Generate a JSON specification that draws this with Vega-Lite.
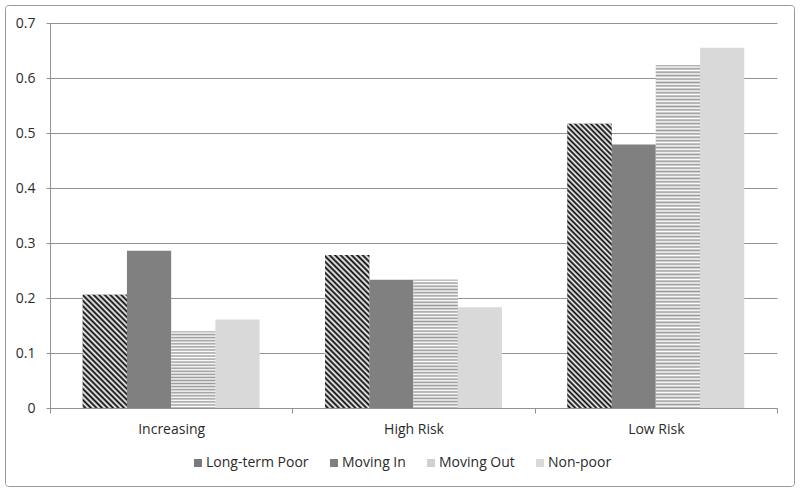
{
"$schema": "https://vega.github.io/schema/vega-lite/v6.json",
"width": 789, "height": 481,
"autosize": {"type": "none"},
"padding": {"left": 5, "top": 5, "right": 6, "bottom": 6},
"background": "white",
"config": {
  "font": "Open Sans",
  "view": {"stroke": "#9a9a9a", "strokeWidth": 1, "cornerRadius": 3},
  "axis": {"labelFont": "Open Sans", "labelFontSize": 14, "labelColor": "#2b2b2b", "domainColor": "#929292", "tickColor": "#929292", "gridColor": "#929292", "domainWidth": 1, "tickWidth": 1, "gridWidth": 1},
  "legend": {"labelFont": "Open Sans", "labelFontSize": 14, "labelColor": "#2b2b2b"}
},
"data": {"values": [
  {"cat": "Increasing", "series": "Long-term Poor", "value": 0.206},
  {"cat": "Increasing", "series": "Moving In", "value": 0.286},
  {"cat": "Increasing", "series": "Moving Out", "value": 0.139},
  {"cat": "Increasing", "series": "Non-poor", "value": 0.161},
  {"cat": "High Risk", "series": "Long-term Poor", "value": 0.278},
  {"cat": "High Risk", "series": "Moving In", "value": 0.233},
  {"cat": "High Risk", "series": "Moving Out", "value": 0.233},
  {"cat": "High Risk", "series": "Non-poor", "value": 0.183},
  {"cat": "Low Risk", "series": "Long-term Poor", "value": 0.517},
  {"cat": "Low Risk", "series": "Moving In", "value": 0.479},
  {"cat": "Low Risk", "series": "Moving Out", "value": 0.623},
  {"cat": "Low Risk", "series": "Non-poor", "value": 0.655}
]},
"encoding": {
  "x": {"field": "cat", "type": "nominal",
        "scale": {"domain": ["Increasing", "High Risk", "Low Risk"], "range": [45, 772], "paddingInner": 0, "paddingOuter": 0},
        "axis": {"orient": "bottom", "offset": -78, "labelAngle": 0, "tickBand": "extent", "ticks": true, "tickSize": 5, "labelPadding": 9, "title": null, "grid": false, "domain": true}},
  "xOffset": {"field": "series", "type": "nominal",
        "scale": {"domain": ["Long-term Poor", "Moving In", "Moving Out", "Non-poor"], "paddingInner": 0, "paddingOuter": 0.74}},
  "y": {"field": "value", "type": "quantitative", "stack": null,
        "scale": {"domain": [0, 0.7], "range": [403, 18], "nice": false, "zero": true},
        "axis": {"orient": "left", "offset": -45, "values": [0, 0.1, 0.2, 0.3, 0.4, 0.5, 0.6, 0.7], "format": "~g", "grid": true, "ticks": true, "tickSize": 4, "labelPadding": 11, "title": null, "domain": true}}
},
"layer": [
  {"mark": {"type": "bar"},
   "encoding": {"color": {"field": "series", "type": "nominal",
      "scale": {"domain": ["Long-term Poor", "Moving In", "Moving Out", "Non-poor"],
                "range": ["#7a7a7a", "#808080", "#d0d0d0", "#d9d9d9"]},
      "legend": {"orient": "none", "legendX": 186, "legendY": 451, "direction": "horizontal", "columns": 4, "title": null, "symbolType": "square", "symbolSize": 64, "symbolStrokeWidth": 0, "labelOffset": 1, "columnPadding": 18, "padding": 0,
        "encode": {"symbols": {"update": {"fill": {"value": {"expr": "datum.value === 'Long-term Poor' ? {gradient: 'linear', x1: 0, y1: 1, x2: 1, y2: 0, stops: [{offset: 0, color: '#fff'}, {offset: 0.2, color: '#fff'}, {offset: 0.2, color: '#000'}, {offset: 0.4, color: '#000'}, {offset: 0.4, color: '#fff'}, {offset: 0.6, color: '#fff'}, {offset: 0.6, color: '#000'}, {offset: 0.8, color: '#000'}, {offset: 0.8, color: '#fff'}, {offset: 1, color: '#fff'}]} : datum.value === 'Moving Out' ? {gradient: 'linear', x1: 0, y1: 0, x2: 0, y2: 1, stops: [{offset: 0, color: '#888'}, {offset: 0.14, color: '#888'}, {offset: 0.14, color: '#fff'}, {offset: 0.28, color: '#fff'}, {offset: 0.28, color: '#888'}, {offset: 0.43, color: '#888'}, {offset: 0.43, color: '#fff'}, {offset: 0.57, color: '#fff'}, {offset: 0.57, color: '#888'}, {offset: 0.72, color: '#888'}, {offset: 0.72, color: '#fff'}, {offset: 0.86, color: '#fff'}, {offset: 0.86, color: '#888'}, {offset: 1, color: '#888'}]} : scale('color', datum.value)"}}}}}}}}},
  {"transform": [{"filter": "datum.cat == 'Increasing' && datum.series == 'Long-term Poor'"}],
   "mark": {"type": "bar", "fill": {"gradient": "linear", "x1": 0, "y1": 1, "x2": 0.4709, "y2": -0.2065, "stops": [{"offset":0,"color":"#fff"},{"offset":0.0175,"color":"#000"},{"offset":0.035,"color":"#fff"},{"offset":0.0525,"color":"#000"},{"offset":0.07,"color":"#fff"},{"offset":0.0875,"color":"#000"},{"offset":0.105,"color":"#fff"},{"offset":0.1225,"color":"#000"},{"offset":0.14,"color":"#fff"},{"offset":0.1575,"color":"#000"},{"offset":0.175,"color":"#fff"},{"offset":0.1925,"color":"#000"},{"offset":0.21,"color":"#fff"},{"offset":0.2275,"color":"#000"},{"offset":0.245,"color":"#fff"},{"offset":0.2625,"color":"#000"},{"offset":0.28,"color":"#fff"},{"offset":0.2975,"color":"#000"},{"offset":0.315,"color":"#fff"},{"offset":0.3325,"color":"#000"},{"offset":0.35,"color":"#fff"},{"offset":0.3675,"color":"#000"},{"offset":0.385,"color":"#fff"},{"offset":0.4025,"color":"#000"},{"offset":0.42,"color":"#fff"},{"offset":0.4375,"color":"#000"},{"offset":0.455,"color":"#fff"},{"offset":0.4725,"color":"#000"},{"offset":0.49,"color":"#fff"},{"offset":0.5075,"color":"#000"},{"offset":0.525,"color":"#fff"},{"offset":0.5425,"color":"#000"},{"offset":0.56,"color":"#fff"},{"offset":0.5775,"color":"#000"},{"offset":0.595,"color":"#fff"},{"offset":0.6125,"color":"#000"},{"offset":0.63,"color":"#fff"},{"offset":0.6475,"color":"#000"},{"offset":0.665,"color":"#fff"},{"offset":0.6825,"color":"#000"},{"offset":0.7,"color":"#fff"},{"offset":0.7175,"color":"#000"},{"offset":0.735,"color":"#fff"},{"offset":0.7525,"color":"#000"},{"offset":0.77,"color":"#fff"},{"offset":0.7875,"color":"#000"},{"offset":0.805,"color":"#fff"},{"offset":0.8225,"color":"#000"},{"offset":0.84,"color":"#fff"},{"offset":0.8575,"color":"#000"},{"offset":0.875,"color":"#fff"},{"offset":0.8925,"color":"#000"},{"offset":0.91,"color":"#fff"},{"offset":0.9275,"color":"#000"},{"offset":0.945,"color":"#fff"},{"offset":0.9625,"color":"#000"},{"offset":0.98,"color":"#fff"},{"offset":0.9975,"color":"#000"}]}}},
  {"transform": [{"filter": "datum.cat == 'High Risk' && datum.series == 'Long-term Poor'"}],
   "mark": {"type": "bar", "fill": {"gradient": "linear", "x1": 0, "y1": 1, "x2": 0.3442, "y2": -0.19, "stops": [{"offset":0,"color":"#fff"},{"offset":0.014,"color":"#000"},{"offset":0.028,"color":"#fff"},{"offset":0.042,"color":"#000"},{"offset":0.056,"color":"#fff"},{"offset":0.07,"color":"#000"},{"offset":0.084,"color":"#fff"},{"offset":0.098,"color":"#000"},{"offset":0.112,"color":"#fff"},{"offset":0.126,"color":"#000"},{"offset":0.14,"color":"#fff"},{"offset":0.154,"color":"#000"},{"offset":0.168,"color":"#fff"},{"offset":0.182,"color":"#000"},{"offset":0.196,"color":"#fff"},{"offset":0.21,"color":"#000"},{"offset":0.224,"color":"#fff"},{"offset":0.238,"color":"#000"},{"offset":0.252,"color":"#fff"},{"offset":0.266,"color":"#000"},{"offset":0.28,"color":"#fff"},{"offset":0.294,"color":"#000"},{"offset":0.308,"color":"#fff"},{"offset":0.322,"color":"#000"},{"offset":0.336,"color":"#fff"},{"offset":0.35,"color":"#000"},{"offset":0.364,"color":"#fff"},{"offset":0.378,"color":"#000"},{"offset":0.392,"color":"#fff"},{"offset":0.406,"color":"#000"},{"offset":0.42,"color":"#fff"},{"offset":0.434,"color":"#000"},{"offset":0.448,"color":"#fff"},{"offset":0.462,"color":"#000"},{"offset":0.476,"color":"#fff"},{"offset":0.49,"color":"#000"},{"offset":0.504,"color":"#fff"},{"offset":0.518,"color":"#000"},{"offset":0.532,"color":"#fff"},{"offset":0.546,"color":"#000"},{"offset":0.56,"color":"#fff"},{"offset":0.574,"color":"#000"},{"offset":0.588,"color":"#fff"},{"offset":0.602,"color":"#000"},{"offset":0.616,"color":"#fff"},{"offset":0.63,"color":"#000"},{"offset":0.644,"color":"#fff"},{"offset":0.658,"color":"#000"},{"offset":0.672,"color":"#fff"},{"offset":0.686,"color":"#000"},{"offset":0.7,"color":"#fff"},{"offset":0.714,"color":"#000"},{"offset":0.728,"color":"#fff"},{"offset":0.742,"color":"#000"},{"offset":0.756,"color":"#fff"},{"offset":0.77,"color":"#000"},{"offset":0.784,"color":"#fff"},{"offset":0.798,"color":"#000"},{"offset":0.812,"color":"#fff"},{"offset":0.826,"color":"#000"},{"offset":0.84,"color":"#fff"},{"offset":0.854,"color":"#000"},{"offset":0.868,"color":"#fff"},{"offset":0.882,"color":"#000"},{"offset":0.896,"color":"#fff"},{"offset":0.91,"color":"#000"},{"offset":0.924,"color":"#fff"},{"offset":0.938,"color":"#000"},{"offset":0.952,"color":"#fff"},{"offset":0.966,"color":"#000"},{"offset":0.98,"color":"#fff"},{"offset":0.994,"color":"#000"}]}}},
  {"transform": [{"filter": "datum.cat == 'Low Risk' && datum.series == 'Long-term Poor'"}],
   "mark": {"type": "bar", "fill": {"gradient": "linear", "x1": 0, "y1": 1, "x2": 0.1755, "y2": -0.1284, "stops": [{"offset":0,"color":"#fff"},{"offset":0.008,"color":"#000"},{"offset":0.016,"color":"#fff"},{"offset":0.024,"color":"#000"},{"offset":0.032,"color":"#fff"},{"offset":0.04,"color":"#000"},{"offset":0.048,"color":"#fff"},{"offset":0.056,"color":"#000"},{"offset":0.064,"color":"#fff"},{"offset":0.072,"color":"#000"},{"offset":0.08,"color":"#fff"},{"offset":0.088,"color":"#000"},{"offset":0.096,"color":"#fff"},{"offset":0.104,"color":"#000"},{"offset":0.112,"color":"#fff"},{"offset":0.12,"color":"#000"},{"offset":0.128,"color":"#fff"},{"offset":0.136,"color":"#000"},{"offset":0.144,"color":"#fff"},{"offset":0.152,"color":"#000"},{"offset":0.16,"color":"#fff"},{"offset":0.168,"color":"#000"},{"offset":0.176,"color":"#fff"},{"offset":0.184,"color":"#000"},{"offset":0.192,"color":"#fff"},{"offset":0.2,"color":"#000"},{"offset":0.208,"color":"#fff"},{"offset":0.216,"color":"#000"},{"offset":0.224,"color":"#fff"},{"offset":0.232,"color":"#000"},{"offset":0.24,"color":"#fff"},{"offset":0.248,"color":"#000"},{"offset":0.256,"color":"#fff"},{"offset":0.264,"color":"#000"},{"offset":0.272,"color":"#fff"},{"offset":0.28,"color":"#000"},{"offset":0.288,"color":"#fff"},{"offset":0.296,"color":"#000"},{"offset":0.304,"color":"#fff"},{"offset":0.312,"color":"#000"},{"offset":0.32,"color":"#fff"},{"offset":0.328,"color":"#000"},{"offset":0.336,"color":"#fff"},{"offset":0.344,"color":"#000"},{"offset":0.352,"color":"#fff"},{"offset":0.36,"color":"#000"},{"offset":0.368,"color":"#fff"},{"offset":0.376,"color":"#000"},{"offset":0.384,"color":"#fff"},{"offset":0.392,"color":"#000"},{"offset":0.4,"color":"#fff"},{"offset":0.408,"color":"#000"},{"offset":0.416,"color":"#fff"},{"offset":0.424,"color":"#000"},{"offset":0.432,"color":"#fff"},{"offset":0.44,"color":"#000"},{"offset":0.448,"color":"#fff"},{"offset":0.456,"color":"#000"},{"offset":0.464,"color":"#fff"},{"offset":0.472,"color":"#000"},{"offset":0.48,"color":"#fff"},{"offset":0.488,"color":"#000"},{"offset":0.496,"color":"#fff"},{"offset":0.504,"color":"#000"},{"offset":0.512,"color":"#fff"},{"offset":0.52,"color":"#000"},{"offset":0.528,"color":"#fff"},{"offset":0.536,"color":"#000"},{"offset":0.544,"color":"#fff"},{"offset":0.552,"color":"#000"},{"offset":0.56,"color":"#fff"},{"offset":0.568,"color":"#000"},{"offset":0.576,"color":"#fff"},{"offset":0.584,"color":"#000"},{"offset":0.592,"color":"#fff"},{"offset":0.6,"color":"#000"},{"offset":0.608,"color":"#fff"},{"offset":0.616,"color":"#000"},{"offset":0.624,"color":"#fff"},{"offset":0.632,"color":"#000"},{"offset":0.64,"color":"#fff"},{"offset":0.648,"color":"#000"},{"offset":0.656,"color":"#fff"},{"offset":0.664,"color":"#000"},{"offset":0.672,"color":"#fff"},{"offset":0.68,"color":"#000"},{"offset":0.688,"color":"#fff"},{"offset":0.696,"color":"#000"},{"offset":0.704,"color":"#fff"},{"offset":0.712,"color":"#000"},{"offset":0.72,"color":"#fff"},{"offset":0.728,"color":"#000"},{"offset":0.736,"color":"#fff"},{"offset":0.744,"color":"#000"},{"offset":0.752,"color":"#fff"},{"offset":0.76,"color":"#000"},{"offset":0.768,"color":"#fff"},{"offset":0.776,"color":"#000"},{"offset":0.784,"color":"#fff"},{"offset":0.792,"color":"#000"},{"offset":0.8,"color":"#fff"},{"offset":0.808,"color":"#000"},{"offset":0.816,"color":"#fff"},{"offset":0.824,"color":"#000"},{"offset":0.832,"color":"#fff"},{"offset":0.84,"color":"#000"},{"offset":0.848,"color":"#fff"},{"offset":0.856,"color":"#000"},{"offset":0.864,"color":"#fff"},{"offset":0.872,"color":"#000"},{"offset":0.88,"color":"#fff"},{"offset":0.888,"color":"#000"},{"offset":0.896,"color":"#fff"},{"offset":0.904,"color":"#000"},{"offset":0.912,"color":"#fff"},{"offset":0.92,"color":"#000"},{"offset":0.928,"color":"#fff"},{"offset":0.936,"color":"#000"},{"offset":0.944,"color":"#fff"},{"offset":0.952,"color":"#000"},{"offset":0.96,"color":"#fff"},{"offset":0.968,"color":"#000"},{"offset":0.976,"color":"#fff"},{"offset":0.984,"color":"#000"},{"offset":0.992,"color":"#fff"},{"offset":1,"color":"#000"}]}}},
  {"transform": [{"filter": "datum.cat == 'Increasing' && datum.series == 'Moving Out'"}],
   "mark": {"type": "bar", "fill": {"gradient": "linear", "x1": 0, "y1": 0, "x2": 0, "y2": 1, "stops": [{"offset":0,"color":"#999"},{"offset":0.02,"color":"#fff"},{"offset":0.04,"color":"#999"},{"offset":0.06,"color":"#fff"},{"offset":0.08,"color":"#999"},{"offset":0.1,"color":"#fff"},{"offset":0.12,"color":"#999"},{"offset":0.14,"color":"#fff"},{"offset":0.16,"color":"#999"},{"offset":0.18,"color":"#fff"},{"offset":0.2,"color":"#999"},{"offset":0.22,"color":"#fff"},{"offset":0.24,"color":"#999"},{"offset":0.26,"color":"#fff"},{"offset":0.28,"color":"#999"},{"offset":0.3,"color":"#fff"},{"offset":0.32,"color":"#999"},{"offset":0.34,"color":"#fff"},{"offset":0.36,"color":"#999"},{"offset":0.38,"color":"#fff"},{"offset":0.4,"color":"#999"},{"offset":0.42,"color":"#fff"},{"offset":0.44,"color":"#999"},{"offset":0.46,"color":"#fff"},{"offset":0.48,"color":"#999"},{"offset":0.5,"color":"#fff"},{"offset":0.52,"color":"#999"},{"offset":0.54,"color":"#fff"},{"offset":0.56,"color":"#999"},{"offset":0.58,"color":"#fff"},{"offset":0.6,"color":"#999"},{"offset":0.62,"color":"#fff"},{"offset":0.64,"color":"#999"},{"offset":0.66,"color":"#fff"},{"offset":0.68,"color":"#999"},{"offset":0.7,"color":"#fff"},{"offset":0.72,"color":"#999"},{"offset":0.74,"color":"#fff"},{"offset":0.76,"color":"#999"},{"offset":0.78,"color":"#fff"},{"offset":0.8,"color":"#999"},{"offset":0.82,"color":"#fff"},{"offset":0.84,"color":"#999"},{"offset":0.86,"color":"#fff"},{"offset":0.88,"color":"#999"},{"offset":0.9,"color":"#fff"},{"offset":0.92,"color":"#999"},{"offset":0.94,"color":"#fff"},{"offset":0.96,"color":"#999"},{"offset":0.98,"color":"#fff"},{"offset":1,"color":"#999"}]}}},
  {"transform": [{"filter": "datum.cat == 'High Risk' && datum.series == 'Moving Out'"}],
   "mark": {"type": "bar", "fill": {"gradient": "linear", "x1": 0, "y1": 0, "x2": 0, "y2": 1, "stops": [{"offset":0,"color":"#999"},{"offset":0.0125,"color":"#fff"},{"offset":0.025,"color":"#999"},{"offset":0.0375,"color":"#fff"},{"offset":0.05,"color":"#999"},{"offset":0.0625,"color":"#fff"},{"offset":0.075,"color":"#999"},{"offset":0.0875,"color":"#fff"},{"offset":0.1,"color":"#999"},{"offset":0.1125,"color":"#fff"},{"offset":0.125,"color":"#999"},{"offset":0.1375,"color":"#fff"},{"offset":0.15,"color":"#999"},{"offset":0.1625,"color":"#fff"},{"offset":0.175,"color":"#999"},{"offset":0.1875,"color":"#fff"},{"offset":0.2,"color":"#999"},{"offset":0.2125,"color":"#fff"},{"offset":0.225,"color":"#999"},{"offset":0.2375,"color":"#fff"},{"offset":0.25,"color":"#999"},{"offset":0.2625,"color":"#fff"},{"offset":0.275,"color":"#999"},{"offset":0.2875,"color":"#fff"},{"offset":0.3,"color":"#999"},{"offset":0.3125,"color":"#fff"},{"offset":0.325,"color":"#999"},{"offset":0.3375,"color":"#fff"},{"offset":0.35,"color":"#999"},{"offset":0.3625,"color":"#fff"},{"offset":0.375,"color":"#999"},{"offset":0.3875,"color":"#fff"},{"offset":0.4,"color":"#999"},{"offset":0.4125,"color":"#fff"},{"offset":0.425,"color":"#999"},{"offset":0.4375,"color":"#fff"},{"offset":0.45,"color":"#999"},{"offset":0.4625,"color":"#fff"},{"offset":0.475,"color":"#999"},{"offset":0.4875,"color":"#fff"},{"offset":0.5,"color":"#999"},{"offset":0.5125,"color":"#fff"},{"offset":0.525,"color":"#999"},{"offset":0.5375,"color":"#fff"},{"offset":0.55,"color":"#999"},{"offset":0.5625,"color":"#fff"},{"offset":0.575,"color":"#999"},{"offset":0.5875,"color":"#fff"},{"offset":0.6,"color":"#999"},{"offset":0.6125,"color":"#fff"},{"offset":0.625,"color":"#999"},{"offset":0.6375,"color":"#fff"},{"offset":0.65,"color":"#999"},{"offset":0.6625,"color":"#fff"},{"offset":0.675,"color":"#999"},{"offset":0.6875,"color":"#fff"},{"offset":0.7,"color":"#999"},{"offset":0.7125,"color":"#fff"},{"offset":0.725,"color":"#999"},{"offset":0.7375,"color":"#fff"},{"offset":0.75,"color":"#999"},{"offset":0.7625,"color":"#fff"},{"offset":0.775,"color":"#999"},{"offset":0.7875,"color":"#fff"},{"offset":0.8,"color":"#999"},{"offset":0.8125,"color":"#fff"},{"offset":0.825,"color":"#999"},{"offset":0.8375,"color":"#fff"},{"offset":0.85,"color":"#999"},{"offset":0.8625,"color":"#fff"},{"offset":0.875,"color":"#999"},{"offset":0.8875,"color":"#fff"},{"offset":0.9,"color":"#999"},{"offset":0.9125,"color":"#fff"},{"offset":0.925,"color":"#999"},{"offset":0.9375,"color":"#fff"},{"offset":0.95,"color":"#999"},{"offset":0.9625,"color":"#fff"},{"offset":0.975,"color":"#999"},{"offset":0.9875,"color":"#fff"},{"offset":1,"color":"#999"}]}}},
  {"transform": [{"filter": "datum.cat == 'Low Risk' && datum.series == 'Moving Out'"}],
   "mark": {"type": "bar", "fill": {"gradient": "linear", "x1": 0, "y1": 0, "x2": 0, "y2": 1, "stops": [{"offset":0,"color":"#999"},{"offset":0.005,"color":"#fff"},{"offset":0.01,"color":"#999"},{"offset":0.015,"color":"#fff"},{"offset":0.02,"color":"#999"},{"offset":0.025,"color":"#fff"},{"offset":0.03,"color":"#999"},{"offset":0.035,"color":"#fff"},{"offset":0.04,"color":"#999"},{"offset":0.045,"color":"#fff"},{"offset":0.05,"color":"#999"},{"offset":0.055,"color":"#fff"},{"offset":0.06,"color":"#999"},{"offset":0.065,"color":"#fff"},{"offset":0.07,"color":"#999"},{"offset":0.075,"color":"#fff"},{"offset":0.08,"color":"#999"},{"offset":0.085,"color":"#fff"},{"offset":0.09,"color":"#999"},{"offset":0.095,"color":"#fff"},{"offset":0.1,"color":"#999"},{"offset":0.105,"color":"#fff"},{"offset":0.11,"color":"#999"},{"offset":0.115,"color":"#fff"},{"offset":0.12,"color":"#999"},{"offset":0.125,"color":"#fff"},{"offset":0.13,"color":"#999"},{"offset":0.135,"color":"#fff"},{"offset":0.14,"color":"#999"},{"offset":0.145,"color":"#fff"},{"offset":0.15,"color":"#999"},{"offset":0.155,"color":"#fff"},{"offset":0.16,"color":"#999"},{"offset":0.165,"color":"#fff"},{"offset":0.17,"color":"#999"},{"offset":0.175,"color":"#fff"},{"offset":0.18,"color":"#999"},{"offset":0.185,"color":"#fff"},{"offset":0.19,"color":"#999"},{"offset":0.195,"color":"#fff"},{"offset":0.2,"color":"#999"},{"offset":0.205,"color":"#fff"},{"offset":0.21,"color":"#999"},{"offset":0.215,"color":"#fff"},{"offset":0.22,"color":"#999"},{"offset":0.225,"color":"#fff"},{"offset":0.23,"color":"#999"},{"offset":0.235,"color":"#fff"},{"offset":0.24,"color":"#999"},{"offset":0.245,"color":"#fff"},{"offset":0.25,"color":"#999"},{"offset":0.255,"color":"#fff"},{"offset":0.26,"color":"#999"},{"offset":0.265,"color":"#fff"},{"offset":0.27,"color":"#999"},{"offset":0.275,"color":"#fff"},{"offset":0.28,"color":"#999"},{"offset":0.285,"color":"#fff"},{"offset":0.29,"color":"#999"},{"offset":0.295,"color":"#fff"},{"offset":0.3,"color":"#999"},{"offset":0.305,"color":"#fff"},{"offset":0.31,"color":"#999"},{"offset":0.315,"color":"#fff"},{"offset":0.32,"color":"#999"},{"offset":0.325,"color":"#fff"},{"offset":0.33,"color":"#999"},{"offset":0.335,"color":"#fff"},{"offset":0.34,"color":"#999"},{"offset":0.345,"color":"#fff"},{"offset":0.35,"color":"#999"},{"offset":0.355,"color":"#fff"},{"offset":0.36,"color":"#999"},{"offset":0.365,"color":"#fff"},{"offset":0.37,"color":"#999"},{"offset":0.375,"color":"#fff"},{"offset":0.38,"color":"#999"},{"offset":0.385,"color":"#fff"},{"offset":0.39,"color":"#999"},{"offset":0.395,"color":"#fff"},{"offset":0.4,"color":"#999"},{"offset":0.405,"color":"#fff"},{"offset":0.41,"color":"#999"},{"offset":0.415,"color":"#fff"},{"offset":0.42,"color":"#999"},{"offset":0.425,"color":"#fff"},{"offset":0.43,"color":"#999"},{"offset":0.435,"color":"#fff"},{"offset":0.44,"color":"#999"},{"offset":0.445,"color":"#fff"},{"offset":0.45,"color":"#999"},{"offset":0.455,"color":"#fff"},{"offset":0.46,"color":"#999"},{"offset":0.465,"color":"#fff"},{"offset":0.47,"color":"#999"},{"offset":0.475,"color":"#fff"},{"offset":0.48,"color":"#999"},{"offset":0.485,"color":"#fff"},{"offset":0.49,"color":"#999"},{"offset":0.495,"color":"#fff"},{"offset":0.5,"color":"#999"},{"offset":0.505,"color":"#fff"},{"offset":0.51,"color":"#999"},{"offset":0.515,"color":"#fff"},{"offset":0.52,"color":"#999"},{"offset":0.525,"color":"#fff"},{"offset":0.53,"color":"#999"},{"offset":0.535,"color":"#fff"},{"offset":0.54,"color":"#999"},{"offset":0.545,"color":"#fff"},{"offset":0.55,"color":"#999"},{"offset":0.555,"color":"#fff"},{"offset":0.56,"color":"#999"},{"offset":0.565,"color":"#fff"},{"offset":0.57,"color":"#999"},{"offset":0.575,"color":"#fff"},{"offset":0.58,"color":"#999"},{"offset":0.585,"color":"#fff"},{"offset":0.59,"color":"#999"},{"offset":0.595,"color":"#fff"},{"offset":0.6,"color":"#999"},{"offset":0.605,"color":"#fff"},{"offset":0.61,"color":"#999"},{"offset":0.615,"color":"#fff"},{"offset":0.62,"color":"#999"},{"offset":0.625,"color":"#fff"},{"offset":0.63,"color":"#999"},{"offset":0.635,"color":"#fff"},{"offset":0.64,"color":"#999"},{"offset":0.645,"color":"#fff"},{"offset":0.65,"color":"#999"},{"offset":0.655,"color":"#fff"},{"offset":0.66,"color":"#999"},{"offset":0.665,"color":"#fff"},{"offset":0.67,"color":"#999"},{"offset":0.675,"color":"#fff"},{"offset":0.68,"color":"#999"},{"offset":0.685,"color":"#fff"},{"offset":0.69,"color":"#999"},{"offset":0.695,"color":"#fff"},{"offset":0.7,"color":"#999"},{"offset":0.705,"color":"#fff"},{"offset":0.71,"color":"#999"},{"offset":0.715,"color":"#fff"},{"offset":0.72,"color":"#999"},{"offset":0.725,"color":"#fff"},{"offset":0.73,"color":"#999"},{"offset":0.735,"color":"#fff"},{"offset":0.74,"color":"#999"},{"offset":0.745,"color":"#fff"},{"offset":0.75,"color":"#999"},{"offset":0.755,"color":"#fff"},{"offset":0.76,"color":"#999"},{"offset":0.765,"color":"#fff"},{"offset":0.77,"color":"#999"},{"offset":0.775,"color":"#fff"},{"offset":0.78,"color":"#999"},{"offset":0.785,"color":"#fff"},{"offset":0.79,"color":"#999"},{"offset":0.795,"color":"#fff"},{"offset":0.8,"color":"#999"},{"offset":0.805,"color":"#fff"},{"offset":0.81,"color":"#999"},{"offset":0.815,"color":"#fff"},{"offset":0.82,"color":"#999"},{"offset":0.825,"color":"#fff"},{"offset":0.83,"color":"#999"},{"offset":0.835,"color":"#fff"},{"offset":0.84,"color":"#999"},{"offset":0.845,"color":"#fff"},{"offset":0.85,"color":"#999"},{"offset":0.855,"color":"#fff"},{"offset":0.86,"color":"#999"},{"offset":0.865,"color":"#fff"},{"offset":0.87,"color":"#999"},{"offset":0.875,"color":"#fff"},{"offset":0.88,"color":"#999"},{"offset":0.885,"color":"#fff"},{"offset":0.89,"color":"#999"},{"offset":0.895,"color":"#fff"},{"offset":0.9,"color":"#999"},{"offset":0.905,"color":"#fff"},{"offset":0.91,"color":"#999"},{"offset":0.915,"color":"#fff"},{"offset":0.92,"color":"#999"},{"offset":0.925,"color":"#fff"},{"offset":0.93,"color":"#999"},{"offset":0.935,"color":"#fff"},{"offset":0.94,"color":"#999"},{"offset":0.945,"color":"#fff"},{"offset":0.95,"color":"#999"},{"offset":0.955,"color":"#fff"},{"offset":0.96,"color":"#999"},{"offset":0.965,"color":"#fff"},{"offset":0.97,"color":"#999"},{"offset":0.975,"color":"#fff"},{"offset":0.98,"color":"#999"},{"offset":0.985,"color":"#fff"},{"offset":0.99,"color":"#999"},{"offset":0.995,"color":"#fff"},{"offset":1,"color":"#999"}]}}}
]
}
